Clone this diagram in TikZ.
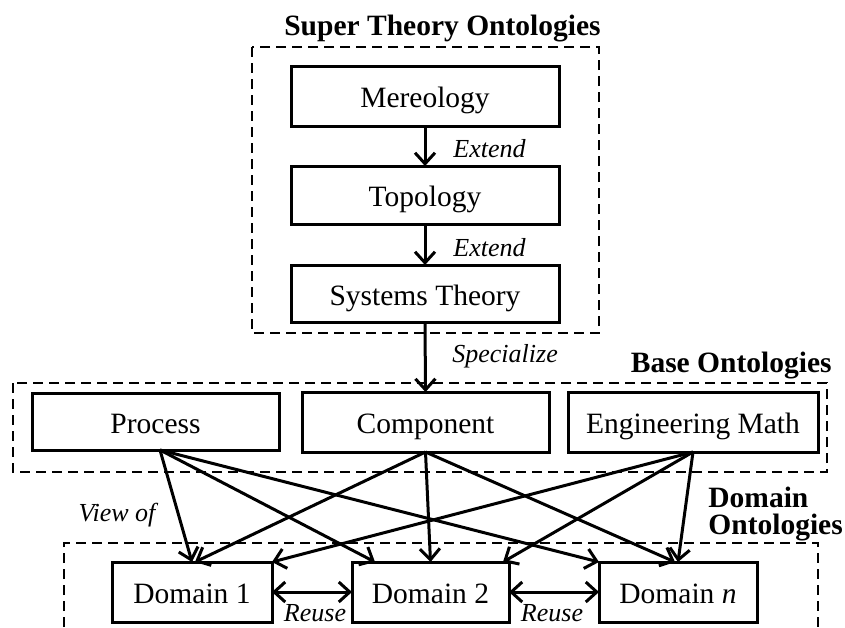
\documentclass[tikz,border=0pt]{standalone}
\usepackage{fontspec}
\setmainfont{Liberation Serif}
\usetikzlibrary{arrows.meta,calc}
\tikzset{
  box/.style={draw, line width=1.5pt, inner sep=0pt, outer sep=0pt, text height=13pt, text depth=1.5pt, font=\fontsize{14.75}{17}\selectfont},
  grp/.style={draw, line width=1pt, dash pattern=on 5pt off 3pt},
  arr/.style={line width=1.5pt, -{Straight Barb[length=5.5pt,width=10pt,line width=1.5pt]}},
  darr/.style={line width=1.5pt, {Straight Barb[length=5.5pt,width=10pt,line width=1.5pt]}-{Straight Barb[length=5.5pt,width=10pt,line width=1.5pt]}},
  lbl/.style={inner sep=0pt, font=\fontsize{13}{15}\selectfont\itshape},
  ttl/.style={inner sep=0pt, font=\fontsize{14.75}{13.5}\selectfont\bfseries}
}
\begin{document}
\begin{tikzpicture}[x=0.5pt,y=-0.5pt]
\useasboundingbox (0,0) rectangle (845,627);
% group frames
\draw[grp] (252,47) rectangle (599,333);
\draw[grp] (13,383) rectangle (827,472);
\draw[grp] (64,627) -- (64,543) -- (818,543) -- (818,627);
% titles
\node[ttl, anchor=base] (tsup) at (442.5,35) {Super Theory Ontologies};
\node[ttl, anchor=base east] (tbase) at (832,372) {Base Ontologies};
\node[ttl, anchor=west, align=left] (tdom) at (708,514) {Domain\\Ontologies};
% super theory boxes
\node[box, minimum width=134pt, minimum height=30pt] (mer) at (425,96) {Mereology};
\node[box, minimum width=134pt, minimum height=29pt] (topo) at (425,195) {Topology};
\node[box, minimum width=134pt, minimum height=28.5pt] (sys) at (425,293.5) {Systems Theory};
% base boxes
\node[box, minimum width=123.5pt, minimum height=28.5pt] (proc) at (155.5,421.5) {Process};
\node[box, minimum width=123.5pt, minimum height=30pt] (comp) at (425.5,422) {Component};
\node[box, minimum width=125pt, minimum height=30pt] (eng) at (693,422) {Engineering Math};
% domain boxes
\node[box, minimum width=80pt, minimum height=30pt] (d1) at (192,592) {Domain 1};
\node[box, minimum width=78.5pt, minimum height=30pt] (d2) at (430.5,592) {Domain 2};
\node[box, minimum width=79pt, minimum height=30pt] (dn) at (678,592) {Domain \textit{n}};
% super theory arrows
\draw[arr] (mer.south) -- (topo.north);
\draw[arr] (topo.south) -- (sys.north);
\draw[arr] (sys.south) -- (comp.north);
\node[lbl, anchor=west] (ext1) at (453,149) {Extend};
\node[lbl, anchor=west] (ext2) at (453,248) {Extend};
\node[lbl, anchor=west] (spec) at (452,356) {Specialize};
% base -> domain arrows
\coordinate (po) at ($(proc.south)+(4.5,0)$);
\coordinate (co) at (comp.south);
\coordinate (eo) at (eng.south);
\draw[arr] (po) -- (d1.north);
\draw[arr] (po) -- ($(d2.north west)+(23,0)$);
\draw[arr] (po) -- (dn.north west);
\draw[arr] (co) -- ($(d1.north)+(3,0)$);
\draw[arr] (co) -- (d2.north);
\draw[arr] (co) -- ($(dn.north)+(-3,0)$);
\draw[arr] (eo) -- (d1.north east);
\draw[arr] (eo) -- ($(d2.north east)+(-6,0)$);
\draw[arr] (eo) -- (dn.north);
\node[lbl] (view) at (117,515) {View of};
% reuse arrows
\draw[darr] (d1.east) -- (d2.west);
\draw[darr] (d2.east) -- (dn.west);
\node[lbl] (re1) at (315,613) {Reuse};
\node[lbl] (re2) at (552,613) {Reuse};
\end{tikzpicture}
\end{document}
